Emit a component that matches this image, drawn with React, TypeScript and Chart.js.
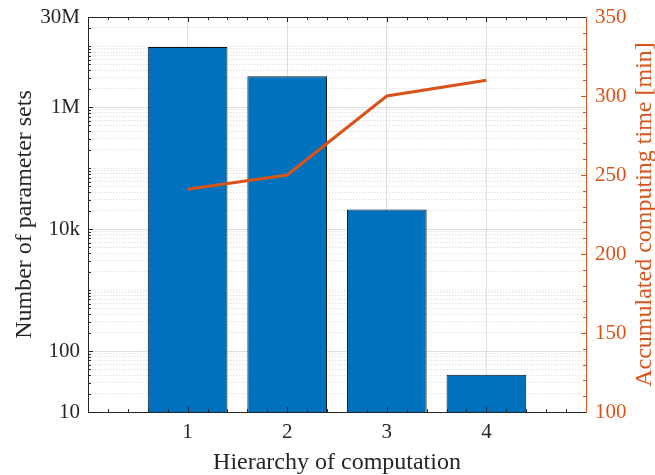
import React, { useEffect, useRef } from 'react';
import { Chart, registerables } from 'chart.js';

Chart.register(...registerables);

// ---- data ----
const categories = [1, 2, 3, 4];
const parameterSets = [9.7e6, 3.2e6, 21000, 41];
const computingTime = [241, 250, 300, 310];

// ---- axis ticks ----
const yMajorTicks = [10, 100, 1e4, 1e6, 3e7];
const yMajorLabels = ['10', '100', '10k', '1M', '30M'];
const yMin = 10;
const yMax = 3e7;
const y2Min = 100;
const y2Max = 350;
const y2Step = 50;
const xMin = 0;
const xMax = 5;

const BLUE = '#0072BD';
const ORANGE = '#D95319';
const AXIS = '#262626';
const FONT = "'Liberation Serif', 'Times New Roman', serif";

function logTickValues(): number[] {
  const out: number[] = [];
  for (let e = 1; e <= 7; e++) {
    for (let m = 1; m <= 9; m++) {
      const v = m * Math.pow(10, e);
      if (v >= yMin && v <= yMax) out.push(v);
    }
  }
  return out;
}
const yAllTicks = logTickValues();
const isYMajor = (v: number) => yMajorTicks.some((t) => Math.abs(t - v) / t < 1e-9);

const frameAndTicks = {
  id: 'frameAndTicks',
  afterDatasetsDraw(chart: any) {
    const { ctx, chartArea } = chart;
    const { left, right, top, bottom } = chartArea;
    const xs = chart.scales.x;
    const ys = chart.scales.y;
    const y2s = chart.scales.y2;
    ctx.save();
    ctx.lineWidth = 1;
    ctx.strokeStyle = AXIS;
    ctx.beginPath();
    for (let i = 1; i < (xMax - xMin) * 5; i++) {
      const v = xMin + i * 0.2;
      const px = Math.round(xs.getPixelForValue(v)) + 0.5;
      const major = i % 5 === 0;
      const len = major ? 5 : 3;
      ctx.moveTo(px, bottom);
      ctx.lineTo(px, bottom - len);
      ctx.moveTo(px, top);
      ctx.lineTo(px, top + len);
    }
    for (const v of yAllTicks) {
      const py = Math.round(ys.getPixelForValue(v)) + 0.5;
      const len = isYMajor(v) ? 5 : 3;
      ctx.moveTo(left, py);
      ctx.lineTo(left + len, py);
    }
    ctx.moveTo(left, Math.round(top) + 0.5);
    ctx.lineTo(right, Math.round(top) + 0.5);
    ctx.stroke();
    ctx.strokeStyle = ORANGE;
    ctx.beginPath();
    for (let v = y2Min + 10; v < y2Max; v += 10) {
      const py = Math.round(y2s.getPixelForValue(v)) + 0.5;
      const len = (v - y2Min) % y2Step === 0 ? 5 : 3;
      ctx.moveTo(right, py);
      ctx.lineTo(right - len, py);
    }
    ctx.stroke();
    ctx.fillStyle = ORANGE;
    ctx.font = `24px ${FONT}`;
    ctx.textAlign = 'center';
    ctx.textBaseline = 'middle';
    ctx.translate(645, (top + bottom) / 2);
    ctx.rotate(-Math.PI / 2);
    ctx.fillText('Accumulated computing time [min]', 0, 0);
    ctx.restore();
  },
};

export default function App() {
  const ref = useRef<HTMLCanvasElement | null>(null);

  useEffect(() => {
    document.body.style.margin = '0';
    const canvas = ref.current;
    if (!canvas) return;
    const chart = new Chart(canvas, {
      type: 'bar',
      data: {
        datasets: [
          {
            type: 'line',
            label: 'Accumulated computing time',
            data: categories.map((c, i) => ({ x: c, y: computingTime[i] })),
            yAxisID: 'y2',
            xAxisID: 'x',
            borderColor: ORANGE,
            backgroundColor: ORANGE,
            borderWidth: 3,
            pointRadius: 0,
            tension: 0,
            order: 0,
          } as any,
          {
            type: 'bar',
            label: 'Number of parameter sets',
            data: categories.map((c, i) => ({ x: c, y: parameterSets[i] })),
            yAxisID: 'y',
            xAxisID: 'x',
            backgroundColor: BLUE,
            borderColor: '#111111',
            borderWidth: 1,
            categoryPercentage: 1,
            barPercentage: 0.8,
            order: 1,
          } as any,
        ],
      },
      options: {
        responsive: false,
        animation: false,
        devicePixelRatio: 1,
        layout: { padding: { top: 17, left: 0, right: 0, bottom: 0 } },
        plugins: {
          legend: { display: false },
          tooltip: { enabled: false },
        },
        scales: {
          x: {
            type: 'linear',
            position: 'bottom',
            min: xMin,
            max: xMax,
            offset: false,
            afterBuildTicks: (scale: any) => {
              const t = [];
              for (let v = xMin; v <= xMax; v++) t.push({ value: v });
              scale.ticks = t;
            },
            ticks: {
              color: AXIS,
              font: { family: FONT, size: 21 },
              padding: 8,
              maxRotation: 0,
              autoSkip: false,
              callback: (v: any) => (categories.includes(Number(v)) ? String(v) : ''),
            },
            grid: {
              offset: false,
              drawTicks: false,
              color: (c: any) =>
                c.tick && categories.includes(c.tick.value) ? 'rgba(0,0,0,0.12)' : 'rgba(0,0,0,0)',
              lineWidth: 1,
            },
            border: { display: true, color: AXIS, width: 1 },
            title: {
              display: true,
              text: 'Hierarchy of computation',
              color: AXIS,
              font: { family: FONT, size: 24, lineHeight: 1 },
              padding: { top: 0, bottom: 0 },
            },
            afterFit: (s: any) => {
              s.height = 63;
              s.paddingLeft = 0;
              s.paddingRight = 0;
            },
          },
          y: {
            type: 'logarithmic',
            position: 'left',
            min: yMin,
            max: yMax,
            afterBuildTicks: (scale: any) => {
              scale.ticks = yAllTicks.map((v) => ({ value: v }));
            },
            ticks: {
              color: AXIS,
              font: { family: FONT, size: 21 },
              padding: 8,
              autoSkip: false,
              callback: (v: any) => {
                const i = yMajorTicks.findIndex((t) => Math.abs(t - Number(v)) / t < 1e-9);
                return i >= 0 ? yMajorLabels[i] : '';
              },
            },
            grid: {
              drawTicks: false,
              color: (c: any) =>
                c.tick && isYMajor(c.tick.value) ? 'rgba(0,0,0,0.13)' : 'rgba(0,0,0,0.11)',
              lineWidth: 1,
            },
            border: {
              display: true,
              color: AXIS,
              width: 1,
              dash: (c: any) => (c.tick && !isYMajor(c.tick.value) ? [1.5, 1.5] : []),
            },
            title: {
              display: true,
              text: 'Number of parameter sets',
              color: AXIS,
              font: { family: FONT, size: 24, lineHeight: 1.2 },
              padding: { top: 10, bottom: 0 },
            },
            afterFit: (s: any) => {
              s.width = 88;
              s.paddingTop = 0;
              s.paddingBottom = 0;
            },
          },
          y2: {
            type: 'linear',
            position: 'right',
            min: y2Min,
            max: y2Max,
            ticks: {
              stepSize: y2Step,
              color: ORANGE,
              font: { family: FONT, size: 21 },
              padding: 9,
            },
            grid: { drawOnChartArea: false, drawTicks: false },
            border: { display: true, color: ORANGE, width: 1 },
            afterFit: (s: any) => {
              s.width = 69;
              s.paddingTop = 0;
              s.paddingBottom = 0;
            },
          },
        },
      } as any,
      plugins: [frameAndTicks],
    });
    return () => chart.destroy();
  }, []);

  return (
    <div style={{ width: 655, height: 475, background: '#fff' }}>
      <canvas ref={ref} width={655} height={475} />
    </div>
  );
}
